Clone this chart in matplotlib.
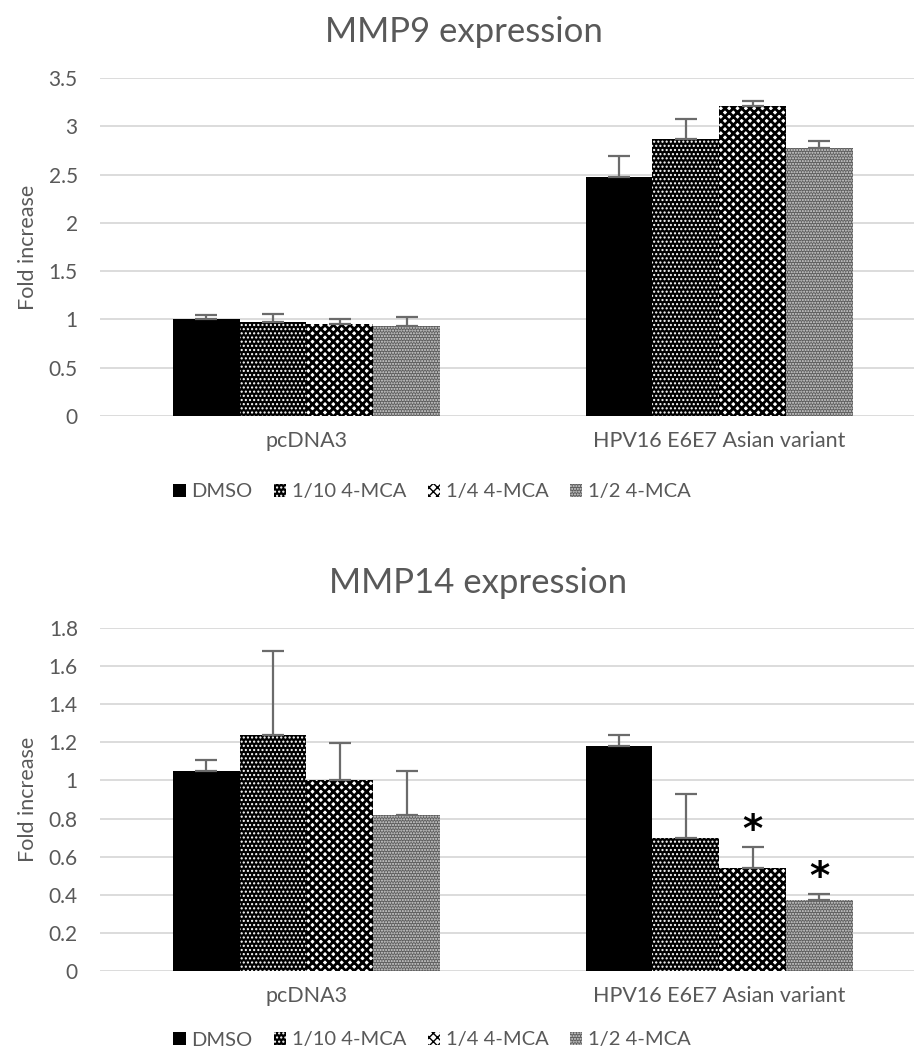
import matplotlib
matplotlib.use("Agg")
import matplotlib.pyplot as plt
from matplotlib.patches import Patch
import numpy as np

# ---------------- data ----------------
groups = ["pcDNA3", "HPV16 E6E7 Asian variant"]
series = ["DMSO", "1/10 4-MCA", "1/4 4-MCA", "1/2 4-MCA"]

mmp9_vals = {
    "DMSO":       [1.00, 2.48],
    "1/10 4-MCA": [0.97, 2.87],
    "1/4 4-MCA":  [0.955, 3.21],
    "1/2 4-MCA":  [0.935, 2.77],
}
mmp9_err = {
    "DMSO":       [0.05, 0.21],
    "1/10 4-MCA": [0.09, 0.21],
    "1/4 4-MCA":  [0.05, 0.05],
    "1/2 4-MCA":  [0.09, 0.08],
}
mmp14_vals = {
    "DMSO":       [1.05, 1.18],
    "1/10 4-MCA": [1.24, 0.70],
    "1/4 4-MCA":  [1.00, 0.54],
    "1/2 4-MCA":  [0.817, 0.375],
}
mmp14_err = {
    "DMSO":       [0.055, 0.06],
    "1/10 4-MCA": [0.44, 0.23],
    "1/4 4-MCA":  [0.195, 0.11],
    "1/2 4-MCA":  [0.23, 0.03],
}
mmp9_ticks = [0, 0.5, 1, 1.5, 2, 2.5, 3, 3.5]
mmp9_ticklabels = ["0", "0.5", "1", "1.5", "2", "2.5", "3", "3.5"]
mmp14_ticks = [0, 0.2, 0.4, 0.6, 0.8, 1.0, 1.2, 1.4, 1.6, 1.8]
mmp14_ticklabels = ["0", "0.2", "0.4", "0.6", "0.8", "1", "1.2", "1.4", "1.6", "1.8"]
# significance markers (group index, series)
mmp14_sig = [(1, "1/4 4-MCA"), (1, "1/2 4-MCA")]

# ---------------- style ----------------
FONT = ["Lato", "DejaVu Sans"]
plt.rcParams["font.family"] = FONT
TXT = "#595959"
GRID = "#d9d9d9"

styles = {
    "DMSO":       dict(face="black", hatch=None, hcol=None, hlw=1.0),
    "1/10 4-MCA": dict(face="black", hatch="....", hcol="white", hlw=1.0),
    "1/4 4-MCA":  dict(face="white", hatch="xxxx", hcol="black", hlw=2.0),
    "1/2 4-MCA":  dict(face="#5e5e5e", hatch="......", hcol="#d8d8d8", hlw=1.0),
}

W, H = 914, 1056
fig = plt.figure(figsize=(W / 100, H / 100), dpi=100)

bar_w = 0.1617


def px_axes(left, top, right, bottom):
    return fig.add_axes([left / W, 1 - bottom / H, (right - left) / W, (bottom - top) / H])


def draw(ax, vals, errs, ticks, ticklabels, ymax, sig=None):
    x = np.arange(len(groups))
    for i, s in enumerate(series):
        xs = x + (i - 1.5) * bar_w
        st = styles[s]
        ax.bar(xs, vals[s], width=bar_w, color=st["face"], linewidth=0, zorder=2)
        if st["hatch"]:
            with plt.rc_context({"hatch.linewidth": st["hlw"]}):
                ax.bar(xs, vals[s], width=bar_w, facecolor="none", edgecolor=st["hcol"],
                       hatch=st["hatch"], linewidth=0, zorder=3)
        ax.errorbar(xs, vals[s], yerr=[np.zeros(len(groups)), errs[s]], fmt="none",
                    ecolor="#6b6b6b", elinewidth=1.6, capsize=8, capthick=1.6, zorder=4)
    if sig:
        for gi, s in sig:
            i = series.index(s)
            xs = gi + (i - 1.5) * bar_w
            ytop = vals[s][gi] + errs[s][gi]
            ax.annotate("*", xy=(xs, ytop), xytext=(0, -2), textcoords="offset points",
                        ha="center", va="bottom", fontsize=28, fontweight="bold",
                        color="black", family=["DejaVu Sans"], zorder=5)
    ax.set_xlim(-0.5, 1.472)
    ax.set_ylim(0, ymax)
    ax.set_yticks(ticks)
    ax.set_yticklabels(ticklabels)
    ax.set_xticks(x)
    ax.set_xticklabels(groups)
    ax.tick_params(axis="y", length=0, pad=16, labelsize=15, labelcolor=TXT)
    ax.tick_params(axis="x", length=0, pad=11, labelsize=15.5, labelcolor=TXT)
    for sp in ax.spines.values():
        sp.set_visible(False)
    ax.grid(axis="y", color=GRID, linewidth=1.3, zorder=0)
    ax.set_axisbelow(True)
    ax.set_ylabel("Fold increase", fontsize=15.5, color=TXT, labelpad=8)


ax1 = px_axes(100, 78, 914, 416)
draw(ax1, mmp9_vals, mmp9_err, mmp9_ticks, mmp9_ticklabels, 3.5)
ax2 = px_axes(100, 628, 914, 971)
draw(ax2, mmp14_vals, mmp14_err, mmp14_ticks, mmp14_ticklabels, 1.8, sig=mmp14_sig)

fig.text(464 / W, 1 - 32 / H, "MMP9 expression", ha="center", va="center", fontsize=25, color=TXT)
fig.text(478 / W, 1 - 583 / H, "MMP14 expression", ha="center", va="center", fontsize=25, color=TXT)

handles = []
for s in series:
    st = styles[s]
    if st["hatch"]:
        handles.append(Patch(facecolor=st["face"], edgecolor=st["hcol"], hatch=st["hatch"], linewidth=0))
    else:
        handles.append(Patch(facecolor=st["face"], linewidth=0))

for yc in (492, 1040):
    fig.legend(handles, series, loc="center", bbox_to_anchor=(432 / W, 1 - yc / H), ncol=4,
               frameon=False, fontsize=14.5, labelcolor=TXT, handlelength=0.6, handleheight=0.6,
               handletextpad=0.3, columnspacing=1.05)

fig.savefig("out.png", dpi=100)
